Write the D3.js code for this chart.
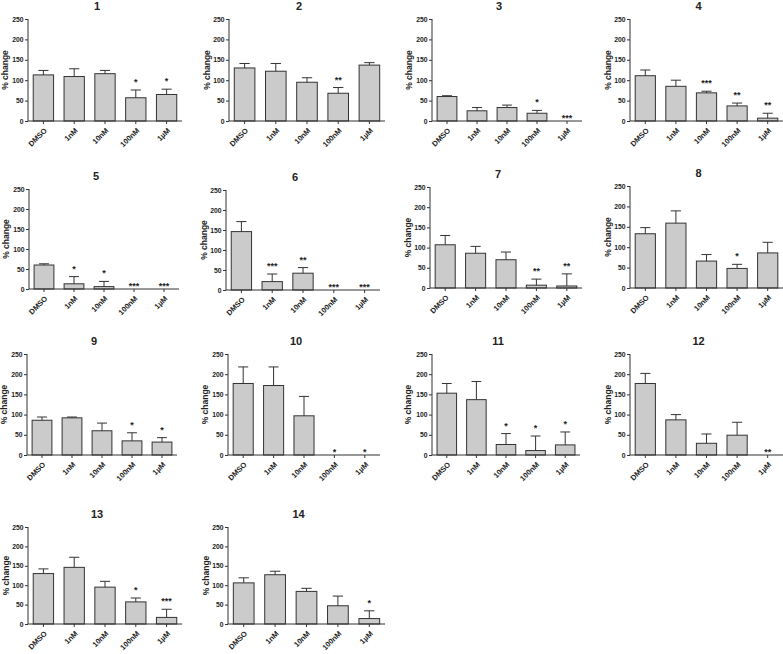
<!DOCTYPE html>
<html><head><meta charset="utf-8">
<script src="https://cdn.jsdelivr.net/npm/d3@7"></script>
<style>
html,body{margin:0;padding:0;background:#fff;}
svg{display:block;font-family:"Liberation Sans",Arial,sans-serif;}
</style></head>
<body>
<svg id="chart" width="783" height="654"></svg>
<script>
// ---- data ----
const titles = ["1","2","3","4","5","6","7","8","9","10","11","12","13","14"];
const categories = ["DMSO","1nM","10nM","100nM","1µM"];
const yTicks = [0,50,100,150,200,250];
const yLabel = "% change";
const means = [
  [113,109,116,57,65],
  [130,122,95,68,137],
  [60,25,33,19,0],
  [111,85,69,37,7],
  [60,13,6,0,0],
  [146,21,42,0,0],
  [107,86,70,7,5],
  [133,159,66,48,86],
  [86,92,60,35,32],
  [177,172,97,0,0],
  [153,137,26,11,25],
  [177,87,29,49,0],
  [130,146,95,57,17],
  [106,127,84,47,14]
];
const errors = [
  [11,19,8,19,13],
  [11,19,11,14,6],
  [2,8,6,7,0],
  [14,15,4,7,12],
  [3,18,13,0,0],
  [25,19,14,0,0],
  [23,17,19,15,30],
  [15,30,16,10,26],
  [8,2,19,20,11],
  [41,46,48,0,0],
  [24,45,27,36,32],
  [25,13,23,32,0],
  [12,26,15,10,21],
  [13,9,8,25,20]
];
const stars = [
  ["","","","*","*"],
  ["","","","**",""],
  ["","","","*","***"],
  ["","","***","**","**"],
  ["","*","*","***","***"],
  ["","***","**","***","***"],
  ["","","","**","**"],
  ["","","","*",""],
  ["","","","*","*"],
  ["","","","*","*"],
  ["","","*","*","*"],
  ["","","","","**"],
  ["","","","*","***"],
  ["","","","","*"]
];

// ---- layout (pixel positions of each panel) ----
const layout = [
  {x0:28,x1:182,top:19,zero:121,ld:23},
  {x0:229,x1:385,top:19,zero:121,ld:21.5},
  {x0:432,x1:582,top:19,zero:121,ld:23},
  {x0:630,x1:783,top:19,zero:121,ld:22},
  {x0:29,x1:179,top:189,zero:289,ld:23},
  {x0:226,x1:380,top:190,zero:290,ld:21.5},
  {x0:430,x1:582,top:187,zero:288,ld:22},
  {x0:630,x1:783,top:186,zero:288,ld:22},
  {x0:27,x1:177,top:354,zero:455,ld:23},
  {x0:228,x1:380,top:354,zero:455,ld:23},
  {x0:432,x1:580,top:354,zero:455,ld:24},
  {x0:630,x1:783,top:354,zero:455,ld:22},
  {x0:28,x1:182,top:527,zero:624,ld:22},
  {x0:228,x1:385,top:527,zero:624,ld:22}
];

const svg = d3.select("#chart");
const ink = "#333";

titles.forEach((t, i) => {
  const L = layout[i];
  const g = svg.append("g");
  const x = d3.scaleBand().domain(categories).range([L.x0, L.x1]).paddingInner(0.34).paddingOuter(0.17);
  const y = d3.scaleLinear().domain([0, 250]).range([L.zero, L.top]);

  // title
  g.append("text").attr("x", (L.x0 + L.x1) / 2 - 8).attr("y", L.top - 9)
    .attr("text-anchor", "middle").attr("font-size", 11).attr("font-weight", "bold")
    .attr("fill", "#222").text(t);

  // y label
  g.append("text")
    .attr("transform", `translate(${L.x0 - L.ld},${(L.top + L.zero) / 2}) rotate(-90)`)
    .attr("text-anchor", "middle").attr("dy", "0.35em")
    .attr("font-size", 8.5).attr("font-weight", "bold").attr("fill", "#222").text(yLabel);

  // bars
  const data = categories.map((c, j) => ({c, m: means[i][j], e: errors[i][j], s: stars[i][j]}));
  g.selectAll("rect.bar").data(data.filter(d => d.m > 0)).join("rect")
    .attr("x", d => x(d.c)).attr("width", x.bandwidth())
    .attr("y", d => y(d.m)).attr("height", d => y(0) - y(d.m))
    .attr("fill", "#cbcbcb").attr("stroke", ink).attr("stroke-width", 1);

  // error bars (upper only)
  const cap = x.bandwidth() * 0.25;
  const eb = g.selectAll("g.eb").data(data.filter(d => d.e > 0)).join("g");
  eb.append("line")
    .attr("x1", d => x(d.c) + x.bandwidth() / 2).attr("x2", d => x(d.c) + x.bandwidth() / 2)
    .attr("y1", d => y(d.m)).attr("y2", d => y(d.m + d.e))
    .attr("stroke", ink).attr("stroke-width", 1);
  eb.append("line")
    .attr("x1", d => x(d.c) + x.bandwidth() / 2 - cap).attr("x2", d => x(d.c) + x.bandwidth() / 2 + cap)
    .attr("y1", d => y(d.m + d.e)).attr("y2", d => y(d.m + d.e))
    .attr("stroke", ink).attr("stroke-width", 1);

  // significance stars
  g.selectAll("text.star").data(data.filter(d => d.s)).join("text")
    .attr("x", d => x(d.c) + x.bandwidth() / 2)
    .attr("y", d => (d.m + d.e) > 0 ? y(d.m + d.e) - 5 : y(0) - 0)
    .attr("text-anchor", "middle").attr("font-size", 9).attr("font-weight", "bold")
    .attr("fill", "#222").text(d => d.s);

  // y axis
  const ya = g.append("g").attr("transform", `translate(${L.x0},0)`)
    .call(d3.axisLeft(y).tickValues(yTicks).tickSize(3).tickPadding(1.5));
  ya.selectAll("text").attr("font-size", 6.8).attr("font-weight", "bold").attr("fill", "#222")
    .attr("font-family", "'Liberation Sans',Arial,sans-serif");
  ya.selectAll("path,line").attr("stroke", ink);
  ya.select("path").attr("d", `M0,${L.zero}V${L.top}`);

  // x axis
  const xa = g.append("g").attr("transform", `translate(0,${L.zero})`)
    .call(d3.axisBottom(x).tickSize(3).tickSizeOuter(0));
  xa.selectAll("path,line").attr("stroke", ink);
  xa.select("path").attr("d", `M${L.x0},0H${L.x1}`);
  xa.selectAll("text")
    .attr("font-size", 7.5).attr("font-weight", "bold").attr("fill", "#222")
    .attr("font-family", "'Liberation Sans',Arial,sans-serif")
    .attr("text-anchor", "end").attr("dy", null).attr("y", null)
    .attr("transform", "translate(4,10) rotate(-45)");
});
</script>
</body></html>
